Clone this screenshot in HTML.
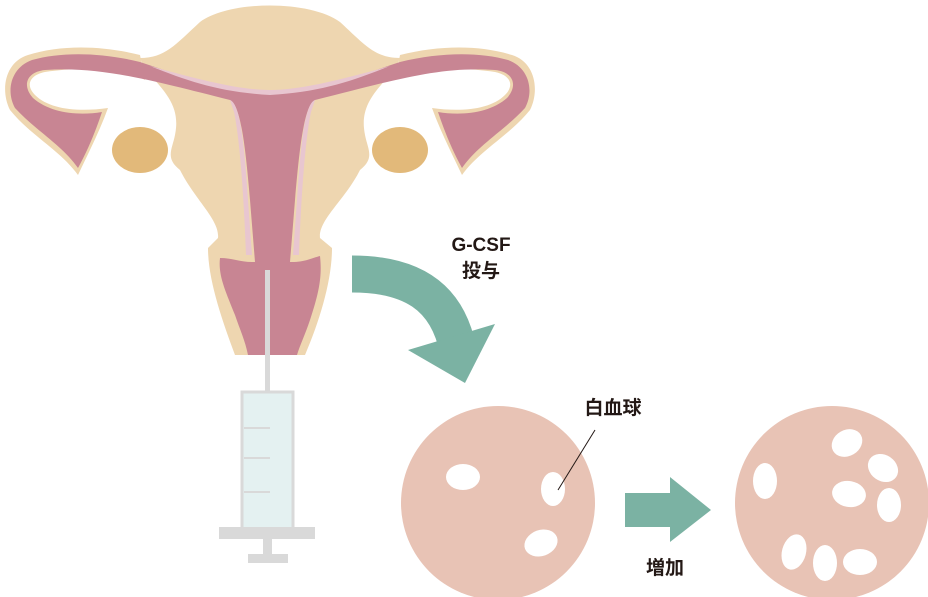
<!DOCTYPE html>
<html><head><meta charset="utf-8"><style>
html,body{margin:0;padding:0;background:#fff;}
svg{display:block}
text{font-family:"Liberation Sans","Noto Sans CJK JP",sans-serif;font-weight:bold;fill:#231815;}
</style></head><body>
<svg width="928" height="597" viewBox="0 0 928 597">
<!-- uterus body -->
<path d="M140,58 C165,58 175,45 200,22 C230,0 310,0 340,22 C365,45 375,58 400,58 L395,70 C370,95 360,110 365,135 C368,150 375,158 360,170 C345,200 318,220 320,238 L332,248 C332,280 320,320 305,355 L235,355 C222,320 208,280 208,248 L218,238 C220,220 195,200 180,170 C165,158 172,150 175,135 C180,110 170,95 145,70 Z" fill="#eed6b0"/>
<!-- tubes outer -->
<path d="M140,55 C100,45 60,45 28,55 C5,62 0,90 10,110 C30,135 60,150 78,175 C90,150 100,130 108,108 C80,112 50,110 35,95 C25,85 30,75 45,72 C90,65 130,72 145,80 Z" fill="#eed6b0"/>
<path d="M400,55 C440,45 480,45 512,55 C535,62 540,90 530,110 C510,135 480,150 462,175 C450,150 440,130 432,108 C460,112 490,110 505,95 C515,85 510,75 495,72 C450,65 410,72 395,80 Z" fill="#eed6b0"/>
<!-- pink tubes -->
<path d="M140,62 C100,52 60,52 32,60 C10,68 6,92 15,108 C35,130 62,145 78,168 C88,150 96,130 102,112 C78,116 50,113 33,98 C22,86 26,72 45,70 C100,66 150,80 230,100 C240,105 245,140 250,200 L255,262 L290,262 L295,200 C300,140 305,105 315,100 C395,80 440,66 495,70 C514,72 518,86 507,98 C490,113 462,116 438,112 C444,130 452,150 462,168 C478,145 505,130 525,108 C534,92 530,68 508,60 C480,52 440,52 400,62 C360,75 320,92 270,93 C220,92 180,75 140,62 Z" fill="#c88593"/>
<path d="M150,66 C200,80 240,90 270,90 C300,90 340,80 390,66 C350,82 320,92 270,95 C220,92 190,82 150,66 Z" fill="#e8c6d0"/>
<path d="M230,100 C240,104 244,140 248,200 L252,255 L246,255 C244,200 240,140 234,112 Z" fill="#e8c6d0"/>
<path d="M315,100 C305,104 301,140 297,200 L293,255 L299,255 C301,200 305,140 311,112 Z" fill="#e8c6d0"/>
<!-- cervix pink -->
<path d="M220,258 C232,258 240,262 252,262 L292,262 C305,262 312,258 320,256 C322,275 320,290 310,320 C305,335 300,345 297,355 L248,355 C245,340 240,330 235,315 C225,290 218,275 220,258 Z" fill="#c88593"/>
<!-- ovaries -->
<ellipse cx="140" cy="150" rx="28" ry="23" fill="#e2b97a"/>
<ellipse cx="400" cy="150" rx="28" ry="23" fill="#e2b97a"/>
<!-- syringe -->
<rect x="265" y="270" width="5" height="123" fill="#d9d9d9"/>
<rect x="242" y="392" width="51" height="137" fill="#e4f1f1" stroke="#d9d9d9" stroke-width="3"/>
<line x1="244" y1="428" x2="270" y2="428" stroke="#d9d9d9" stroke-width="2"/>
<line x1="244" y1="458" x2="270" y2="458" stroke="#d9d9d9" stroke-width="2"/>
<line x1="244" y1="492" x2="270" y2="492" stroke="#d9d9d9" stroke-width="2"/>
<rect x="219" y="527" width="96" height="12" fill="#d9d9d9"/>
<rect x="263" y="539" width="9" height="16" fill="#d9d9d9"/>
<rect x="248" y="554" width="40" height="9" fill="#d9d9d9"/>
<!-- curved arrow -->
<path d="M352,274 C410,274 447,295 458,350" fill="none" stroke="#7bb2a3" stroke-width="37"/>
<polygon points="408,350 495,324 465,383" fill="#7bb2a3"/>
<text x="481" y="251" font-size="19" text-anchor="middle">G-CSF</text>
<text x="481" y="277" font-size="19" text-anchor="middle">投与</text>
<!-- circles -->
<circle cx="498" cy="503" r="97" fill="#e8c3b5"/>
<ellipse cx="463" cy="477" rx="17" ry="13" fill="#fff"/>
<ellipse cx="553" cy="489" rx="12" ry="17" fill="#fff"/>
<ellipse cx="541" cy="543" rx="17" ry="13" transform="rotate(-20 541 543)" fill="#fff"/>
<line x1="595" y1="430" x2="558" y2="490" stroke="#231815" stroke-width="1"/>
<text x="613" y="414" font-size="19" text-anchor="middle">白血球</text>
<polygon points="625,493 670,493 670,477 711,510 670,542 670,527 625,527" fill="#7bb2a3"/>
<text x="665" y="574" font-size="19" text-anchor="middle">増加</text>
<circle cx="832" cy="503" r="97" fill="#e8c3b5"/>
<ellipse cx="847" cy="443" rx="16" ry="13" transform="rotate(-30 847 443)" fill="#fff"/>
<ellipse cx="883" cy="468" rx="16" ry="13" transform="rotate(35 883 468)" fill="#fff"/>
<ellipse cx="849" cy="494" rx="17" ry="13" transform="rotate(10 849 494)" fill="#fff"/>
<ellipse cx="889" cy="505" rx="12" ry="17" fill="#fff"/>
<ellipse cx="765" cy="481" rx="12" ry="18" fill="#fff"/>
<ellipse cx="794" cy="552" rx="12" ry="18" transform="rotate(15 794 552)" fill="#fff"/>
<ellipse cx="825" cy="563" rx="12" ry="18" fill="#fff"/>
<ellipse cx="860" cy="562" rx="17" ry="13" fill="#fff"/>
</svg>
</body></html>
